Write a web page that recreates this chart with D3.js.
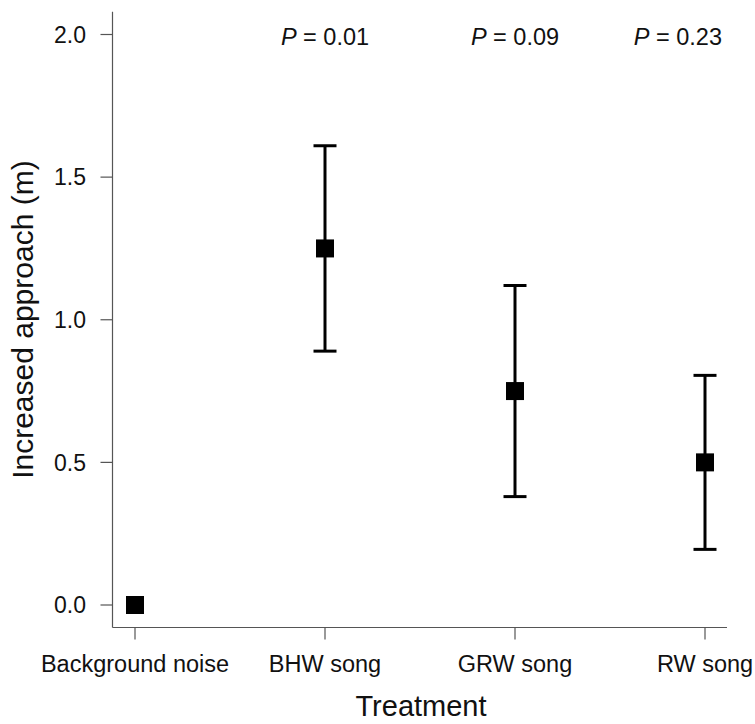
<!DOCTYPE html>
<html>
<head>
  <script src="https://d3js.org/d3.v7.min.js"></script>
  <style>
    body { margin: 0; background: white; }
    svg { font-family: "Liberation Sans", Arial, sans-serif; }
  </style>
</head>
<body>
  <svg id="chart" width="755" height="724"></svg>
  <script>
    // data
    const categories = ["Background noise", "BHW song", "GRW song", "RW song"];
    const means = [0, 1.25, 0.75, 0.5];
    const upper = [null, 1.61, 1.12, 0.805];
    const lower = [null, 0.89, 0.38, 0.195];
    const pValues = [null, "0.01", "0.09", "0.23"];
    const yTicks = [0, 0.5, 1.0, 1.5, 2.0];

    const svg = d3.select("#chart");
    const axisColor = "#555";

    const x = d3.scalePoint().domain(categories).range([135, 705]);
    const y = d3.scaleLinear().domain([0, 2]).range([605, 34.5]);

    // axis box edges (R style, 4% extension)
    const xLeft = 112.5, yBottom = 627.5;

    // y axis
    svg.append("line")
      .attr("x1", xLeft).attr("x2", xLeft)
      .attr("y1", y(2.08)).attr("y2", yBottom)
      .attr("stroke", axisColor).attr("stroke-width", 1.2);

    const yt = svg.append("g").selectAll("g").data(yTicks).join("g")
      .attr("transform", d => `translate(0,${y(d)})`);
    yt.append("line").attr("x1", xLeft - 12).attr("x2", xLeft)
      .attr("stroke", axisColor).attr("stroke-width", 1.2);
    yt.append("text").attr("x", 86).attr("dy", "0.36em")
      .attr("text-anchor", "end").attr("font-size", 23).attr("fill", "#111")
      .text(d => d3.format(".1f")(d));

    // x axis
    svg.append("line")
      .attr("x1", xLeft).attr("x2", 727)
      .attr("y1", yBottom).attr("y2", yBottom)
      .attr("stroke", axisColor).attr("stroke-width", 1.2);

    const xt = svg.append("g").selectAll("g").data(categories).join("g")
      .attr("transform", d => `translate(${x(d)},0)`);
    xt.append("line").attr("y1", yBottom).attr("y2", yBottom + 12)
      .attr("stroke", axisColor).attr("stroke-width", 1.2);
    xt.append("text").attr("y", 672).attr("text-anchor", "middle")
      .attr("font-size", 23.5).attr("fill", "#111")
      .text(d => d);

    // axis titles
    svg.append("text").attr("x", 421).attr("y", 716)
      .attr("text-anchor", "middle").attr("font-size", 29).attr("fill", "#111")
      .text("Treatment");
    svg.append("text")
      .attr("transform", `translate(33,${(y(2.08) + yBottom) / 2}) rotate(-90)`)
      .attr("text-anchor", "middle").attr("font-size", 30).attr("fill", "#111")
      .text("Increased approach (m)");

    // error bars
    const idx = d3.range(categories.length).filter(i => upper[i] != null);
    const eb = svg.append("g").selectAll("g").data(idx).join("g")
      .attr("stroke", "#000").attr("stroke-width", 3);
    eb.append("line")
      .attr("x1", i => x(categories[i])).attr("x2", i => x(categories[i]))
      .attr("y1", i => y(upper[i])).attr("y2", i => y(lower[i]));
    eb.append("line")
      .attr("x1", i => x(categories[i]) - 11.5).attr("x2", i => x(categories[i]) + 11.5)
      .attr("y1", i => y(upper[i])).attr("y2", i => y(upper[i]));
    eb.append("line")
      .attr("x1", i => x(categories[i]) - 11.5).attr("x2", i => x(categories[i]) + 11.5)
      .attr("y1", i => y(lower[i])).attr("y2", i => y(lower[i]));

    // mean markers
    const s = 18;
    svg.append("g").selectAll("rect").data(categories).join("rect")
      .attr("x", d => x(d) - s / 2)
      .attr("y", (d, i) => y(means[i]) - s / 2)
      .attr("width", s).attr("height", s)
      .attr("fill", "#000");

    // P values above each treatment
    const pl = svg.append("g").selectAll("text")
      .data(d3.range(categories.length).filter(i => pValues[i] != null))
      .join("text")
      .attr("y", 45).attr("font-size", 23.5).attr("fill", "#111")
      .attr("text-anchor", "middle")
      .attr("x", i => x(categories[i]));
    pl.append("tspan").attr("font-style", "italic").text("P");
    pl.append("tspan").text(i => " = " + pValues[i]);
    // keep the last label inside the plot area
    pl.each(function () {
      const b = this.getBBox();
      if (b.x + b.width > 722) {
        d3.select(this).attr("x", +d3.select(this).attr("x") - (b.x + b.width - 722));
      }
    });
  </script>
</body>
</html>
